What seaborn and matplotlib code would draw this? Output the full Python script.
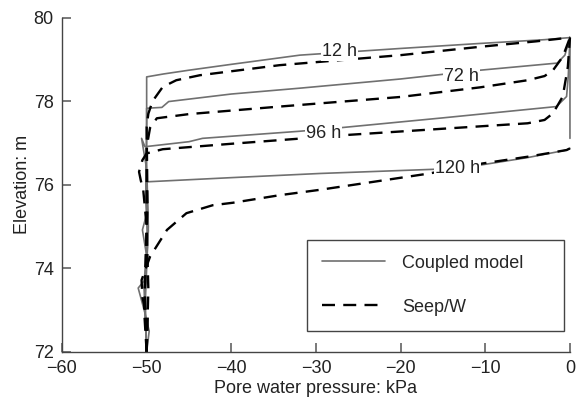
import pandas as pd
import numpy as np
import matplotlib
matplotlib.use('Agg')
import matplotlib.pyplot as plt
from matplotlib.lines import Line2D
import seaborn as sns

# Coupled model profiles (pore water pressure kPa, elevation m)
c12_p = [-50.0, -50.2, -49.9, -50.1, -50.0, -50.0, -48.0, -45.0, -40.0, -31.9, -20.0, -10.6, -3.0, 0.0, 0.0]
c12_e = [72.0, 73.0, 74.5, 76.0, 77.5, 78.58, 78.65, 78.74, 78.88, 79.10, 79.26, 79.38, 79.47, 79.52, 77.11]

c72_p = [-50.0, -50.3, -49.8, -50.0, -50.0, -48.2, -47.4, -40.0, -31.9, -20.0, -10.6, -1.5, -0.6, 0.0]
c72_e = [72.0, 73.5, 75.0, 76.5, 77.83, 77.85, 77.99, 78.17, 78.31, 78.53, 78.74, 78.91, 79.1, 79.52]

c96_p = [-50.0, -50.2, -49.8, -50.1, -50.6, -50.2, -45.0, -43.4, -31.9, -26.8, -15.0, -1.6, -0.4, -0.2, 0.0]
c96_e = [72.0, 73.5, 74.9, 76.5, 77.11, 76.91, 77.03, 77.11, 77.28, 77.37, 77.6, 77.87, 78.11, 78.6, 79.52]

c120_p = [-50.0, -49.7, -50.2, -51.0, -50.3, -50.0, -50.5, -50.0, -50.1, -50.0, -40.0, -29.5, -13.3, -10.6, -5.0, -0.4, 0.0]
c120_e = [72.0, 72.5, 72.93, 73.53, 73.7, 74.3, 74.92, 75.3, 75.7, 76.07, 76.17, 76.27, 76.39, 76.47, 76.65, 76.83, 76.87]

# Seep/W profiles
s12_p = [-50.0, -50.2, -49.9, -50.0, -49.8, -49.3, -48.1, -46.5, -43.7, -34.3, -20.0, -10.6, -4.0, 0.0]
s12_e = [72.0, 73.5, 75.5, 77.39, 77.7, 78.0, 78.34, 78.50, 78.62, 78.86, 79.1, 79.30, 79.43, 79.52]

s72_p = [-50.0, -50.3, -50.0, -50.0, -49.6, -48.8, -45.0, -34.3, -20.0, -10.6, -5.0, -3.0, -2.0, -0.85, 0.0]
s72_e = [72.0, 73.0, 75.0, 76.9, 77.36, 77.59, 77.69, 77.87, 78.1, 78.33, 78.5, 78.6, 78.74, 79.06, 79.52]

s96_p = [-50.0, -49.8, -50.0, -50.4, -50.7, -50.9, -50.5, -50.0, -48.1, -40.0, -31.5, -26.4, -15.0, -5.0, -3.0, -2.0, -0.85, -0.25, 0.0]
s96_e = [72.0, 73.5, 75.0, 75.87, 76.11, 76.31, 76.59, 76.75, 76.85, 76.98, 77.11, 77.19, 77.34, 77.47, 77.55, 77.71, 78.11, 78.82, 79.52]

s120_p = [-50.0, -49.9, -50.5, -50.6, -49.6, -47.6, -45.3, -42.2, -39.8, -34.3, -29.5, -16.6, -10.3, -5.0, -0.4, 0.0]
s120_e = [72.0, 72.8, 73.3, 73.72, 74.28, 74.92, 75.32, 75.51, 75.57, 75.75, 75.88, 76.27, 76.51, 76.67, 76.83, 76.87]

# curve labels (text, pressure, elevation)
lab_text = ['12 h', '72 h', '96 h', '120 h']
lab_p = [-27.2, -12.8, -29.1, -13.3]
lab_e = [79.18, 78.58, 77.23, 76.39]

# Build one long table
rows = []
for model, time, ps, es in [
    ('Coupled model', '12 h', c12_p, c12_e),
    ('Coupled model', '72 h', c72_p, c72_e),
    ('Coupled model', '96 h', c96_p, c96_e),
    ('Coupled model', '120 h', c120_p, c120_e),
    ('Seep/W', '12 h', s12_p, s12_e),
    ('Seep/W', '72 h', s72_p, s72_e),
    ('Seep/W', '96 h', s96_p, s96_e),
    ('Seep/W', '120 h', s120_p, s120_e),
]:
    for p, e in zip(ps, es):
        rows.append({'model': model, 'time': time, 'pressure': p, 'elevation': e})
df = pd.DataFrame(rows)

sns.set_style('ticks')
plt.rcParams['font.family'] = ['Liberation Sans', 'DejaVu Sans']
plt.rcParams['xtick.direction'] = 'in'
plt.rcParams['ytick.direction'] = 'in'

fig = plt.figure(figsize=(5.81, 3.98), dpi=100)
ax = fig.add_axes([0.1067, 0.1156, 0.8743, 0.8404])

gray = '#707070'
sns.lineplot(data=df[df['model'] == 'Coupled model'], x='pressure', y='elevation',
             units='time', estimator=None, sort=False, color=gray, lw=1.2, ax=ax)
sns.lineplot(data=df[df['model'] == 'Seep/W'], x='pressure', y='elevation',
             units='time', estimator=None, sort=False, color='black', lw=1.7,
             dashes=False, ax=ax)
for line in ax.lines[4:]:
    line.set_dashes((5.5, 3.5))

for t, p, e in zip(lab_text, lab_p, lab_e):
    ax.text(p, e, t, fontsize=13, color='#222222', ha='center', va='center', zorder=5,
            bbox=dict(facecolor='white', edgecolor='none', pad=0.5))

ax.set_xlim(-60, 0)
ax.set_ylim(72, 80)
ax.set_xticks(np.arange(-60, 1, 10))
ax.set_yticks(np.arange(72, 81, 2))
ax.set_xlabel('Pore water pressure: kPa', fontsize=13, labelpad=2, color='#222222')
ax.set_ylabel('Elevation: m', fontsize=13, labelpad=2, color='#222222')
ax.tick_params(axis='both', which='major', direction='in', length=6.5, width=1.1, pad=6,
               labelsize=13, color='#555555', labelcolor='#222222')
sns.despine(ax=ax)
for s in ['left', 'bottom']:
    ax.spines[s].set_color('#444444')
    ax.spines[s].set_linewidth(1)
for line in ax.lines:
    line.set_clip_on(False)

handles = [Line2D([], [], color=gray, lw=1.2),
           Line2D([], [], color='black', lw=1.7, dashes=(5.5, 3.5))]
leg = ax.legend(handles, ['Coupled model', 'Seep/W'], loc='lower left',
                bbox_to_anchor=(0.4817, 0.0628, 0.5065, 0.3), mode='expand',
                borderaxespad=0, fontsize=13, handlelength=3.5, handletextpad=0.94,
                labelspacing=1.5, borderpad=0.84, fancybox=False, framealpha=1)
leg.get_frame().set_edgecolor('#444444')
leg.get_frame().set_linewidth(1)

plt.savefig('out.png', dpi=100)
